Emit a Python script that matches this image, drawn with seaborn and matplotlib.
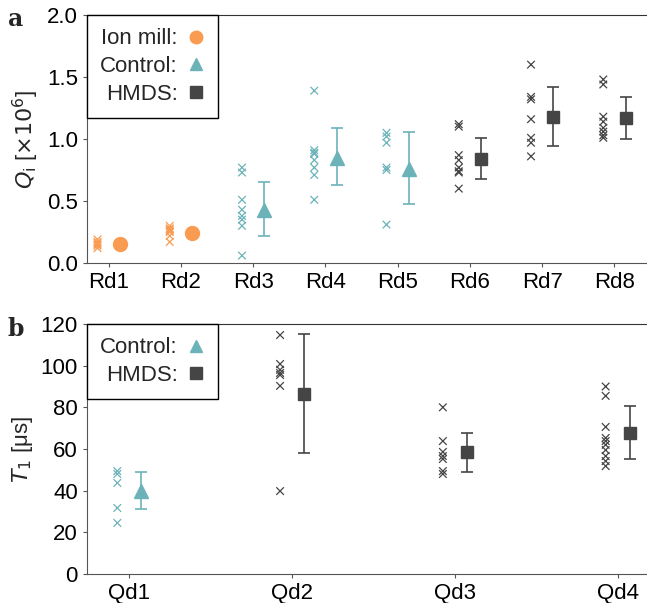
import numpy as np
import pandas as pd
import matplotlib
matplotlib.use('Agg')
import matplotlib.pyplot as plt
from matplotlib.lines import Line2D
import seaborn as sns

# ---- data ----
rd_labels = ['Rd1', 'Rd2', 'Rd3', 'Rd4', 'Rd5', 'Rd6', 'Rd7', 'Rd8']
rd_group = ['Ion mill', 'Ion mill', 'Control', 'Control', 'Control',
            'HMDS', 'HMDS', 'HMDS']
rd_points = [
    [0.12, 0.14, 0.15, 0.16, 0.17, 0.19],
    [0.17, 0.22, 0.25, 0.26, 0.27, 0.28, 0.30],
    [0.77, 0.73, 0.51, 0.43, 0.38, 0.35, 0.30, 0.06],
    [1.39, 0.91, 0.89, 0.88, 0.83, 0.77, 0.71, 0.51],
    [1.05, 1.02, 0.97, 0.77, 0.75, 0.31],
    [1.12, 1.10, 0.87, 0.83, 0.77, 0.74, 0.73, 0.60],
    [1.60, 1.34, 1.32, 1.16, 1.01, 0.97, 0.86],
    [1.48, 1.44, 1.18, 1.14, 1.09, 1.06, 1.03, 1.01],
]
rd_mean = [0.155, 0.24, 0.43, 0.85, 0.76, 0.84, 1.18, 1.17]
rd_lo = [0.14, 0.21, 0.22, 0.63, 0.48, 0.68, 0.94, 1.00]
rd_hi = [0.17, 0.27, 0.65, 1.09, 1.06, 1.01, 1.42, 1.34]

qd_labels = ['Qd1', 'Qd2', 'Qd3', 'Qd4']
qd_group = ['Control', 'HMDS', 'HMDS', 'HMDS']
qd_points = [
    [49.4, 48.0, 43.7, 31.7, 24.5],
    [114.7, 100.8, 98.0, 96.5, 95.5, 90.3, 39.8],
    [80.0, 63.8, 58.6, 56.6, 55.2, 49.4, 48.0],
    [90.0, 85.5, 70.6, 65.3, 63.8, 62.0, 59.5, 56.6, 54.2, 51.8],
]
qd_mean = [39.8, 86.4, 58.4, 67.7]
qd_lo = [31.0, 58.0, 49.0, 55.2]
qd_hi = [49.0, 115.0, 67.7, 80.6]

colors = {'Ion mill': '#F99B50', 'Control': '#6BB3B9', 'HMDS': '#454545'}
markers = {'Ion mill': 'o', 'Control': '^', 'HMDS': 's'}
msize = {'Ion mill': 10, 'Control': 10, 'HMDS': 9}

sns.set_style('ticks')
plt.rcParams['font.family'] = ['Liberation Sans', 'DejaVu Sans']
plt.rcParams['mathtext.fontset'] = 'dejavusans'
FS = 16


def panel(ax, labels, groups, points, mean, lo, hi, off, legend_groups):
    rows = []
    for i, (g, pts) in enumerate(zip(groups, points)):
        for v in pts:
            rows.append({'x': i - off, 'y': v, 'group': g})
    df = pd.DataFrame(rows)
    sns.scatterplot(data=df, x='x', y='y', hue='group', palette=colors,
                    marker='x', s=30, linewidth=0.9, legend=False, ax=ax,
                    zorder=3)
    for i, g in enumerate(groups):
        ax.errorbar(i + off, mean[i],
                    yerr=[[mean[i] - lo[i]], [hi[i] - mean[i]]],
                    fmt=markers[g], color=colors[g], ms=msize[g],
                    elinewidth=1.2, capsize=4, capthick=1.2, zorder=4)
    ax.set_xticks(range(len(labels)))
    ax.set_xticklabels(labels)
    ax.set_xlabel('')
    ax.tick_params(labelsize=FS, colors='#555555', labelcolor='black',
                   length=3)
    for s in ['left', 'bottom']:
        ax.spines[s].set_color('#555555')
    ax.spines['top'].set_color('#333333')
    ax.spines['right'].set_visible(False)
    handles = [Line2D([], [], ls='none', marker=markers[g], color=colors[g],
                      ms=msize[g] - 1, label=g + ':') for g in legend_groups]
    leg = ax.legend(handles=handles, loc='upper left', markerfirst=False,
                    fontsize=FS, frameon=True, fancybox=False,
                    borderaxespad=0, handlelength=0.8, handletextpad=0.4,
                    labelspacing=0.3, borderpad=0.6)
    leg.get_frame().set_edgecolor('black')
    leg.get_frame().set_linewidth(1.0)
    leg.get_frame().set_alpha(1)


fig = plt.figure(figsize=(6.47, 6.03), dpi=100)
ax1 = fig.add_axes([0.1345, 0.5638, 0.8655, 0.4113])
ax2 = fig.add_axes([0.1345, 0.0481, 0.8655, 0.4146])

panel(ax1, rd_labels, rd_group, rd_points, rd_mean, rd_lo, rd_hi, 0.155,
      ['Ion mill', 'Control', 'HMDS'])
ax1.set_xlim(-0.3, 7.45)
ax1.set_ylim(0, 2.0)
ax1.set_yticks([0, 0.5, 1.0, 1.5, 2.0])
ax1.set_ylabel(r'$Q_\mathrm{i}$ [$\times 10^6$]', fontsize=FS)

panel(ax2, qd_labels, qd_group, qd_points, qd_mean, qd_lo, qd_hi, 0.074,
      ['Control', 'HMDS'])
ax2.set_xlim(-0.26, 3.18)
ax2.set_ylim(0, 120)
ax2.set_yticks(range(0, 121, 20))
ax2.set_ylabel(r'$T_1$ [μs]', fontsize=FS)

fig.text(0.012, 0.968, 'a', fontsize=17, fontweight='bold',
         family='DejaVu Serif', va='center')
fig.text(0.012, 0.455, 'b', fontsize=17, fontweight='bold',
         family='DejaVu Serif', va='center')

fig.savefig('out.png', dpi=100)
